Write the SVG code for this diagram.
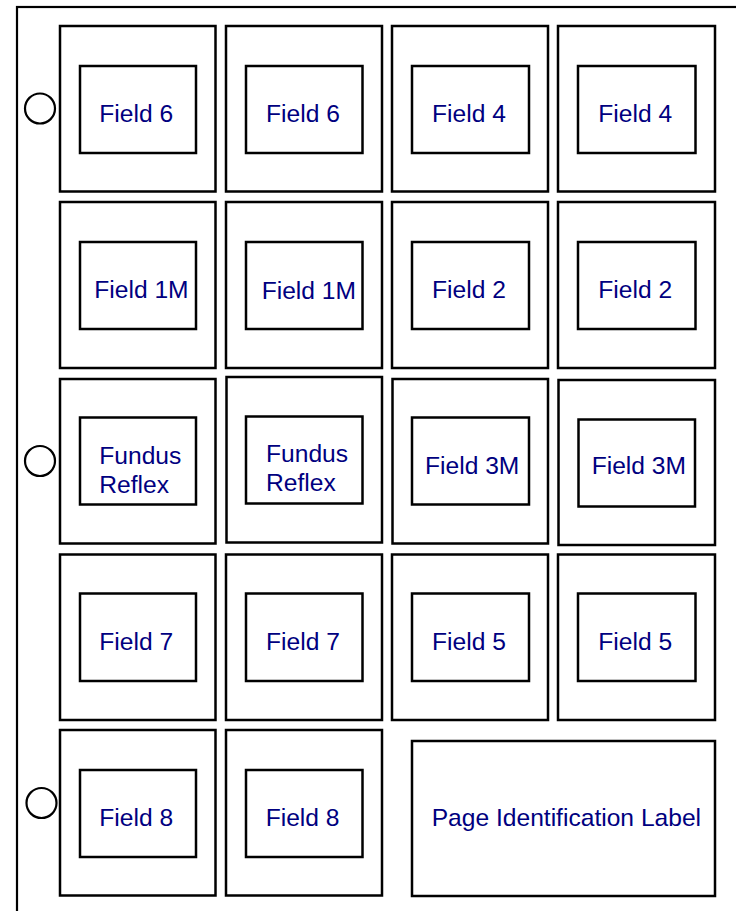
<svg xmlns="http://www.w3.org/2000/svg" width="736" height="911" viewBox="0 0 736 911">
<style>
.page{fill:#fff;stroke:#000;stroke-width:2.2}
.o{fill:#fff;stroke:#000;stroke-width:2.5}
.i{fill:#fff;stroke:#000;stroke-width:2.5}
.h{fill:#fff;stroke:#000;stroke-width:2.2}
.ts{font-family:"Liberation Sans",Arial,sans-serif;font-size:24.6px;fill:#000080}
</style>
<rect x="0" y="0" width="736" height="911" fill="#fff"/>
<rect class="page" x="17" y="7" width="760" height="960"/>
<g id="holes">
<circle class="h" cx="40" cy="108.5" r="15"/>
<circle class="h" cx="40" cy="461" r="15"/>
<circle class="h" cx="41.5" cy="803" r="15"/>
</g>
<g id="r1c1"><rect class="o" x="60" y="26" width="155.5" height="165.5"/><rect class="i" x="80" y="66" width="116" height="87"/><text class="ts" x="99.3" y="121.5">Field 6</text></g>
<g id="r1c2"><rect class="o" x="226" y="26" width="156" height="165.5"/><rect class="i" x="246" y="66" width="116.5" height="87"/><text class="ts" x="266" y="121.5">Field 6</text></g>
<g id="r1c3"><rect class="o" x="392" y="26" width="156" height="165.5"/><rect class="i" x="412" y="66" width="117" height="87"/><text class="ts" x="432" y="121.5">Field 4</text></g>
<g id="r1c4"><rect class="o" x="558" y="26" width="157" height="165.5"/><rect class="i" x="578" y="66" width="117.5" height="87"/><text class="ts" x="598.3" y="121.5">Field 4</text></g>

<g id="r2c1"><rect class="o" x="60" y="202" width="155.5" height="166"/><rect class="i" x="80" y="242" width="116" height="87"/><text class="ts" x="94.3" y="298">Field 1M</text></g>
<g id="r2c2"><rect class="o" x="226" y="202" width="156" height="166"/><rect class="i" x="246" y="242" width="116.5" height="87"/><text class="ts" x="261.7" y="299">Field 1M</text></g>
<g id="r2c3"><rect class="o" x="392" y="202" width="156" height="166"/><rect class="i" x="412" y="242" width="117" height="87"/><text class="ts" x="432" y="298">Field 2</text></g>
<g id="r2c4"><rect class="o" x="558" y="202" width="157" height="166"/><rect class="i" x="578" y="242" width="117.5" height="87"/><text class="ts" x="598.3" y="298">Field 2</text></g>

<g id="r3c1"><rect class="o" x="60" y="379" width="155.5" height="164.5"/><rect class="i" x="80" y="417.5" width="116" height="87"/><text class="ts" x="99.3" y="464.3">Fundus</text><text class="ts" x="99.3" y="493.3">Reflex</text></g>
<g id="r3c2"><rect class="o" x="226.5" y="377" width="155.5" height="165.5"/><rect class="i" x="246" y="416.5" width="116.5" height="87"/><text class="ts" x="266" y="462">Fundus</text><text class="ts" x="266" y="491">Reflex</text></g>
<g id="r3c3"><rect class="o" x="392.5" y="379" width="155.5" height="164.5"/><rect class="i" x="412" y="417.5" width="117" height="87"/><text class="ts" x="425" y="474.3">Field 3M</text></g>
<g id="r3c4"><rect class="o" x="558.5" y="380" width="156.5" height="165"/><rect class="i" x="578.5" y="419.5" width="116.5" height="87"/><text class="ts" x="591.7" y="474.3">Field 3M</text></g>

<g id="r4c1"><rect class="o" x="60" y="554.5" width="155.5" height="165.5"/><rect class="i" x="80" y="593.5" width="116" height="87.5"/><text class="ts" x="99.3" y="650">Field 7</text></g>
<g id="r4c2"><rect class="o" x="226" y="554.5" width="156" height="165.5"/><rect class="i" x="246" y="593.5" width="116.5" height="87.5"/><text class="ts" x="266" y="650">Field 7</text></g>
<g id="r4c3"><rect class="o" x="392" y="554.5" width="156" height="165.5"/><rect class="i" x="412" y="593.5" width="117" height="87.5"/><text class="ts" x="432" y="650">Field 5</text></g>
<g id="r4c4"><rect class="o" x="558" y="554.5" width="157" height="165.5"/><rect class="i" x="578" y="593.5" width="117.5" height="87.5"/><text class="ts" x="598.3" y="650">Field 5</text></g>

<g id="r5c1"><rect class="o" x="60" y="730" width="155.5" height="165.5"/><rect class="i" x="80" y="770" width="116" height="87"/><text class="ts" x="99.3" y="825.5">Field 8</text></g>
<g id="r5c2"><rect class="o" x="226" y="730" width="156" height="165.5"/><rect class="i" x="246" y="770" width="116.5" height="87"/><text class="ts" x="265.7" y="826">Field 8</text></g>
<g id="label"><rect class="o" x="412" y="741" width="303" height="155"/><text class="ts" x="431.7" y="826">Page Identification Label</text></g>
<g id="connectors"/>
</svg>
